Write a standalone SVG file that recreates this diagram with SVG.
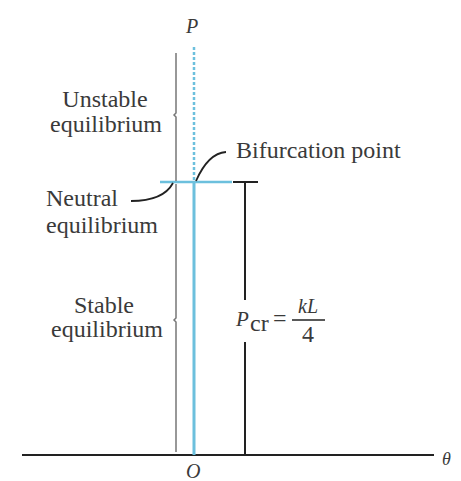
<svg xmlns="http://www.w3.org/2000/svg" width="461" height="481" viewBox="0 0 461 481">
<style>
.t{font-family:"Liberation Serif","Times New Roman",serif;font-size:24px;fill:#3a3a3a}
.i{font-family:"Liberation Serif","Times New Roman",serif;font-style:italic;fill:#3a3a3a}
.blue{stroke:#6cc0dd;fill:none}
.blk{stroke:#222;fill:none}
.gray{stroke:#777;fill:none;stroke-width:1.5}
</style>
<rect width="461" height="481" fill="#fff"/>
<g id="connectors">
<line id="axis" x1="22" y1="455" x2="434" y2="455" class="blk" stroke-width="2"/>
<line x1="194" y1="47" x2="194" y2="181" class="blue" stroke-width="2.5" stroke-dasharray="3,2"/>
<line x1="194" y1="182" x2="194" y2="455" class="blue" stroke-width="3"/>
<line x1="160" y1="182" x2="232" y2="182" class="blue" stroke-width="2.5"/>
<path d="M176,53 V113 l-2,2 l2,2 V181" class="gray"/>
<path d="M176,184 V318 l-2,2 l2,2 V452" class="gray"/>
<line x1="233" y1="182" x2="258" y2="182" class="blk" stroke-width="2"/>
<line x1="245" y1="182" x2="245" y2="300" class="blk" stroke-width="2"/>
<line x1="245" y1="342" x2="245" y2="455" class="blk" stroke-width="2"/>
<path d="M196,181 C203,165 212,153 226,152" class="blk" stroke-width="1.8"/>
<path d="M173,183 C166,196 152,201 131,201" class="blk" stroke-width="1.8"/>
<line x1="292" y1="320" x2="325" y2="320" class="blk" stroke-width="1.5"/>
</g>
<g id="P"><text x="186" y="33" class="i" font-size="20">P</text></g>
<g id="O"><text x="186" y="478" class="i" font-size="20">O</text></g>
<g id="theta"><text x="442" y="465" class="i" font-size="18">θ</text></g>
<g id="unstable">
<text x="105" y="107" class="t" text-anchor="middle">Unstable</text>
<text x="106" y="132" class="t" text-anchor="middle">equilibrium</text>
</g>
<g id="neutral">
<text x="46" y="206" class="t">Neutral</text>
<text x="46" y="233" class="t">equilibrium</text>
</g>
<g id="stable">
<text x="104" y="313" class="t" text-anchor="middle">Stable</text>
<text x="107" y="337" class="t" text-anchor="middle">equilibrium</text>
</g>
<g id="bifurcation"><text x="236" y="158" class="t">Bifurcation point</text></g>
<g id="pcr">
<text x="236" y="326" class="i" font-size="21">P</text>
<text x="250" y="331" class="t" font-size="13">cr</text>
<text x="273" y="326" class="t" font-size="20">=</text>
<text x="308" y="313" class="i" font-size="20" text-anchor="middle">kL</text>
<text x="308" y="342" class="t" font-size="20" text-anchor="middle">4</text>
</g>
</svg>
